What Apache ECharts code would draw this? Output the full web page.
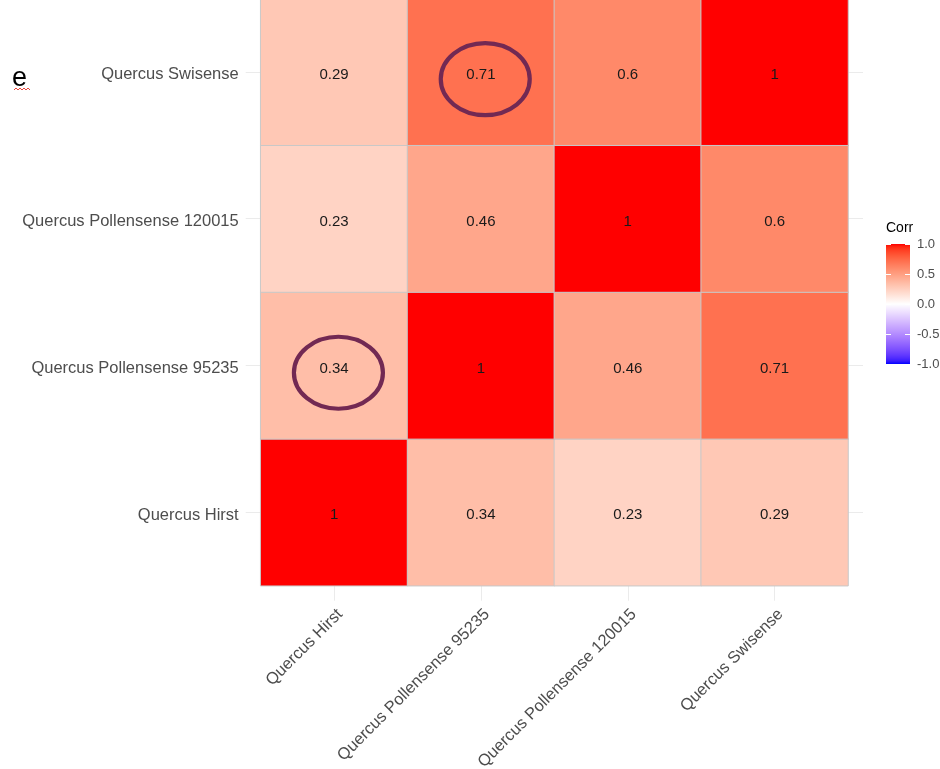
<!DOCTYPE html>
<html>
<head>
<meta charset="utf-8">
<script src="https://cdn.jsdelivr.net/npm/echarts@6/dist/echarts.min.js"></script>
<style>
html,body{margin:0;padding:0;background:#fff;}
#chart{width:940px;height:769px;}
</style>
</head>
<body>
<div id="chart"></div>
<script>
// ---- data ----
const categories = ['Quercus Hirst', 'Quercus Pollensense 95235', 'Quercus Pollensense 120015', 'Quercus Swisense'];
// rows: y category (bottom to top), columns: x category
const rowHirst      = [1, 0.34, 0.23, 0.29];
const rowP95235     = [0.34, 1, 0.46, 0.71];
const rowP120015    = [0.23, 0.46, 1, 0.6];
const rowSwisense   = [0.29, 0.71, 0.6, 1];
const matrixRows = [rowHirst, rowP95235, rowP120015, rowSwisense];
// circled cells [xIndex, yIndex]
const circledCells = [[1, 3], [0, 1]];
const legendTicks = [-1, -0.5, 0, 0.5, 1];
const legendTitle = 'Corr';
const panelLetter = 'e';

// ---- Lab colour interpolation (ggplot gradient2 style) ----
function toLin(c){ c/=255; return c<=0.04045 ? c/12.92 : Math.pow((c+0.055)/1.055, 2.4); }
function toSrgb(c){ c = c<=0.0031308 ? 12.92*c : 1.055*Math.pow(c,1/2.4)-0.055; return Math.max(0,Math.min(255,Math.round(c*255))); }
function hexToLab(hex){
  const r=toLin(parseInt(hex.substr(1,2),16)), g=toLin(parseInt(hex.substr(3,2),16)), b=toLin(parseInt(hex.substr(5,2),16));
  const X=(0.4124*r+0.3576*g+0.1805*b)/0.95047, Y=(0.2126*r+0.7152*g+0.0722*b), Z=(0.0193*r+0.1192*g+0.9505*b)/1.08883;
  const f=t=> t>0.008856 ? Math.cbrt(t) : 7.787*t+16/116;
  const fx=f(X), fy=f(Y), fz=f(Z);
  return [116*fy-16, 500*(fx-fy), 200*(fy-fz)];
}
function labToHex(L,a,b){
  const fy=(L+16)/116, fx=fy+a/500, fz=fy-b/200;
  const fi=t=> t*t*t>0.008856 ? t*t*t : (t-16/116)/7.787;
  const X=fi(fx)*0.95047, Y=fi(fy), Z=fi(fz)*1.08883;
  const r= 3.2406*X-1.5372*Y-0.4986*Z, g=-0.9689*X+1.8758*Y+0.0415*Z, bb=0.0557*X-0.2040*Y+1.0570*Z;
  const h=v=>('0'+toSrgb(v).toString(16)).slice(-2);
  return '#'+h(r)+h(g)+h(bb);
}
const LOW='#0000ff', MID='#ffffff', HIGH='#ff0000';
const labLow=hexToLab(LOW), labMid=hexToLab(MID), labHigh=hexToLab(HIGH);
function mix(a,b,t){ return labToHex(a[0]+(b[0]-a[0])*t, a[1]+(b[1]-a[1])*t, a[2]+(b[2]-a[2])*t); }
const NSTOP=40;
const colorStops=[];
for(let i=0;i<=NSTOP;i++){
  const v=-1+2*i/NSTOP;
  colorStops.push(v<0 ? mix(labMid,labLow,-v) : mix(labMid,labHigh,v));
}

// ---- build heatmap data ----
const heatData=[];
matrixRows.forEach((row,yi)=>row.forEach((v,xi)=>heatData.push([xi,yi,v])));

const chart=echarts.init(document.getElementById('chart'),null,{renderer:'canvas'});
const GRAY_GRID='#ebebeb';
const FONT='Liberation Sans, Arial, sans-serif';
const option={
  backgroundColor:'#ffffff',
  animation:false,
  grid:[
    {left:260.7, top:-1.6, width:587.3, height:587.3, outerBoundsMode:'none', containLabel:false},
    {left:886, top:244, width:24, height:120, outerBoundsMode:'none', containLabel:false}
  ],
  xAxis:[
    {type:'category', gridIndex:0, data:categories, boundaryGap:true,
     axisLine:{show:false},
     axisTick:{show:true, alignWithLabel:true, length:15, lineStyle:{color:GRAY_GRID, width:1}},
     axisLabel:{rotate:45, margin:20, verticalAlign:'top', fontSize:16.5, color:'#4d4d4d', fontFamily:FONT, interval:0},
     splitLine:{show:false}},
    {type:'category', gridIndex:1, data:['bar'], show:false}
  ],
  yAxis:[
    {type:'category', gridIndex:0, data:categories, boundaryGap:true,
     axisLine:{show:false},
     axisTick:{show:true, alignWithLabel:true, length:15, lineStyle:{color:GRAY_GRID, width:1}},
     axisLabel:{margin:22, fontSize:16.5, color:'#4d4d4d', fontFamily:FONT, interval:0,
       formatter:v=>'{t|'+v+'}', rich:{t:{fontSize:16.5, color:'#4d4d4d', fontFamily:FONT, padding:[6,0,0,0]}}},
     splitLine:{show:false}},
    {type:'category', gridIndex:0, data:categories, boundaryGap:true, position:'right',
     axisLine:{show:false},
     axisTick:{show:true, alignWithLabel:true, length:15, lineStyle:{color:GRAY_GRID, width:1}},
     axisLabel:{show:false}, splitLine:{show:false}},
    {type:'value', gridIndex:1, min:-1, max:1, interval:0.5, position:'right', z:10,
     axisLine:{show:false},
     axisTick:{show:true, inside:true, length:5, lineStyle:{color:'#ffffff', width:1}},
     axisLabel:{margin:7, fontSize:13, color:'#4d4d4d', fontFamily:FONT,
       formatter:v=>v.toFixed(1), customValues:legendTicks},
     splitLine:{show:false}},
    {type:'value', gridIndex:1, min:-1, max:1, interval:0.5, position:'left', z:10,
     axisLine:{show:false},
     axisTick:{show:true, inside:true, length:5, lineStyle:{color:'#ffffff', width:1}},
     axisLabel:{show:false}, splitLine:{show:false}}
  ],
  visualMap:{type:'continuous', show:false, min:-1, max:1, dimension:2, seriesIndex:0,
    inRange:{color:colorStops}},
  graphic:[
    {type:'text', left:886, top:221, style:{text:legendTitle, fill:'#000', font:'14px '+FONT}},
    {type:'text', left:12, top:65, style:{text:panelLetter, fill:'#000', font:'27px '+FONT}},
    {type:'polyline', shape:{points:[[14,90],[16,88],[18,90],[20,88],[22,90],[24,88],[26,90],[28,88],[30,90]]},
      style:{stroke:'#e8453c', lineWidth:1, fill:null}}
  ],
  series:[
    {type:'heatmap', xAxisIndex:0, yAxisIndex:0, data:heatData,
     itemStyle:{borderColor:'#c8c8c8', borderWidth:1},
     label:{show:true, color:'#1a1a1a', fontSize:15, fontFamily:FONT, offset:[0,3],
       formatter:p=>String(p.value[2])},
     emphasis:{disabled:true}},
    {type:'custom', xAxisIndex:0, yAxisIndex:0, data:circledCells, z:5,
     renderItem:(params,api)=>{
       const c=api.coord([api.value(0),api.value(1)]);
       return {type:'ellipse', shape:{cx:c[0]+4.3, cy:c[1]+7.3, rx:44.5, ry:36}, style:{stroke:'#722953', lineWidth:4.2, fill:null}};
     }},
    {type:'custom', xAxisIndex:1, yAxisIndex:2, data:[[0,1,-1]], z:2,
     renderItem:(params,api)=>{
       const top=api.coord([0,api.value(1)]), bot=api.coord([0,api.value(2)]);
       const w=api.size([1,0])[0];
       const stops=colorStops.map((c,i)=>({offset:i/NSTOP, color:c}));
       return {type:'rect', shape:{x:top[0]-w/2, y:top[1], width:w, height:bot[1]-top[1]},
         style:{fill:new echarts.graphic.LinearGradient(0,1,0,0,stops)}};
     }}
  ]
};
chart.setOption(option);
</script>
</body>
</html>
